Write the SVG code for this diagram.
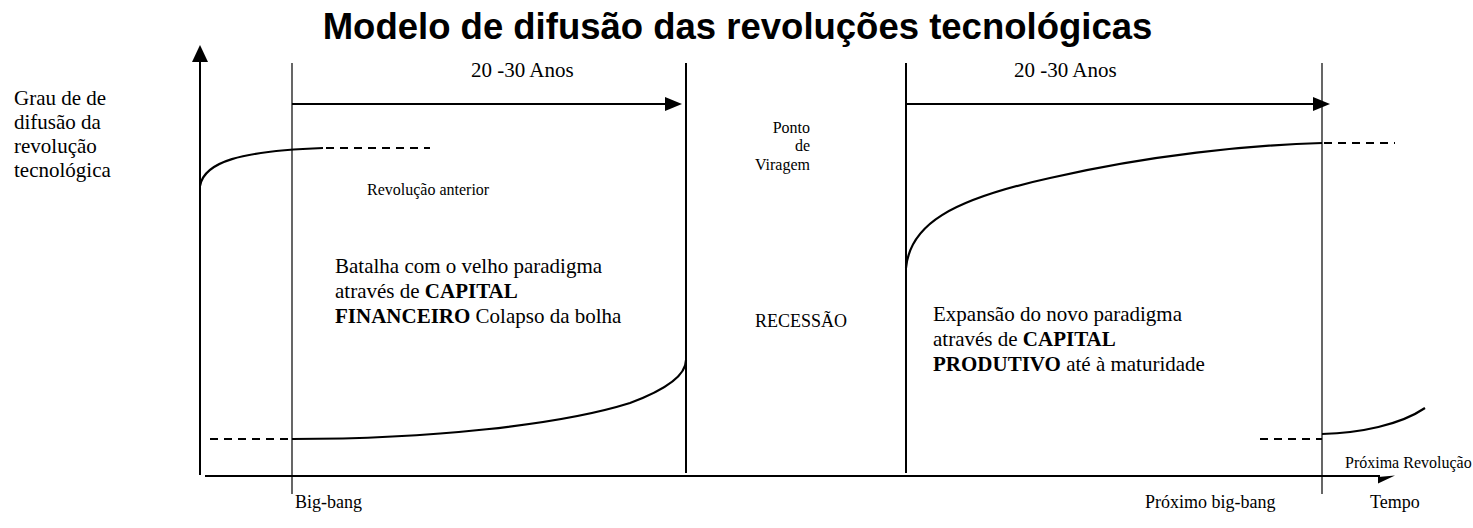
<svg xmlns="http://www.w3.org/2000/svg" width="1473" height="528" viewBox="0 0 1473 528">
<style>
.t{font-family:"Liberation Serif","Times New Roman",serif;fill:#000}
.b{font-weight:bold}
.ln{stroke:#000;fill:none}
.thick{stroke-width:2}
.thin{stroke-width:1.2}
.dash{stroke:#000;stroke-width:2;stroke-dasharray:8 6;fill:none}
.crv{stroke:#000;stroke-width:2.2;fill:none}
</style>
<rect width="1473" height="528" fill="#fff"/>
<g id="title">
<text x="737.5" y="39" text-anchor="middle" style="font-family:'Liberation Sans',Arial,sans-serif;font-weight:bold;font-size:36.5px">Modelo de difusão das revoluções tecnológicas</text>
</g>
<g id="axes">
<line class="ln thick" x1="200" y1="60" x2="200" y2="475"/>
<polygon points="200,45 192,62 208,62"/>
<line class="ln thick" x1="205" y1="476" x2="1380" y2="476"/>
<polygon points="1395,475.5 1378,477 1378,483.5"/>
</g>
<g id="connectors">
<line class="ln thin" x1="292" y1="63" x2="292" y2="494"/>
<line class="ln thick" x1="686" y1="63" x2="686" y2="473"/>
<line class="ln thick" x1="906" y1="63" x2="906" y2="473"/>
<line class="ln thin" x1="1322" y1="63" x2="1322" y2="494"/>
<line class="ln thick" x1="292" y1="104" x2="666" y2="104"/>
<polygon points="682,104 665,97 665,111"/>
<line class="ln thick" x1="906" y1="104" x2="1314" y2="104"/>
<polygon points="1330,104 1313,97 1313,111"/>
</g>
<g id="curves">
<path class="crv" d="M200,186 C204,162 240,151 323,148"/>
<line class="dash" x1="326" y1="148" x2="430" y2="148"/>
<line class="dash" x1="210" y1="439" x2="292" y2="439"/>
<path class="crv" d="M292,439 C430,439 560,425 630,403 C665,390 686,375 686,360"/>
<path class="crv" d="M906,268 C910,225 950,200 1050,178 C1150,155 1250,145 1322,143"/>
<line class="dash" x1="1324" y1="143" x2="1395" y2="143"/>
<line class="dash" x1="1260" y1="439" x2="1322" y2="439"/>
<path class="crv" d="M1322,434 C1360,433 1400,425 1425,408"/>
</g>
<g id="label-ylabel">
<text class="t" style="font-size:21px"><tspan x="14" y="105">Grau de de</tspan><tspan x="14" y="129">difusão da</tspan><tspan x="14" y="153">revolução</tspan><tspan x="14" y="177">tecnológica</tspan></text>
</g>
<g id="label-years1"><text class="t" x="471" y="77" style="font-size:21px">20 -30 Anos</text></g>
<g id="label-years2"><text class="t" x="1014" y="77" style="font-size:21px">20 -30 Anos</text></g>
<g id="label-prev"><text class="t" x="367" y="195" style="font-size:16px">Revolução anterior</text></g>
<g id="label-turn">
<text class="t" text-anchor="end" style="font-size:16px"><tspan x="810" y="133">Ponto</tspan><tspan x="810" y="151">de</tspan><tspan x="810" y="170">Viragem</tspan></text>
</g>
<g id="label-recession"><text class="t" x="755" y="327" style="font-size:18px">RECESSÃO</text></g>
<g id="label-battle">
<text class="t" style="font-size:21px"><tspan x="335" y="273">Batalha com o velho paradigma</tspan><tspan x="335" y="298">através de <tspan class="b">CAPITAL</tspan></tspan><tspan x="335" y="323"><tspan class="b">FINANCEIRO</tspan> Colapso da bolha</tspan></text>
</g>
<g id="label-expansion">
<text class="t" style="font-size:21px"><tspan x="933" y="321">Expansão do novo paradigma</tspan><tspan x="933" y="346">através de <tspan class="b">CAPITAL</tspan></tspan><tspan x="933" y="371"><tspan class="b">PRODUTIVO</tspan> até à maturidade</tspan></text>
</g>
<g id="label-next"><text class="t" x="1345" y="468" style="font-size:16px">Próxima Revolução</text></g>
<g id="label-bigbang"><text class="t" x="295" y="508" style="font-size:18px">Big-bang</text></g>
<g id="label-nextbigbang"><text class="t" x="1145" y="508" style="font-size:18px">Próximo big-bang</text></g>
<g id="label-time"><text class="t" x="1370" y="508" style="font-size:18px">Tempo</text></g>
</svg>
